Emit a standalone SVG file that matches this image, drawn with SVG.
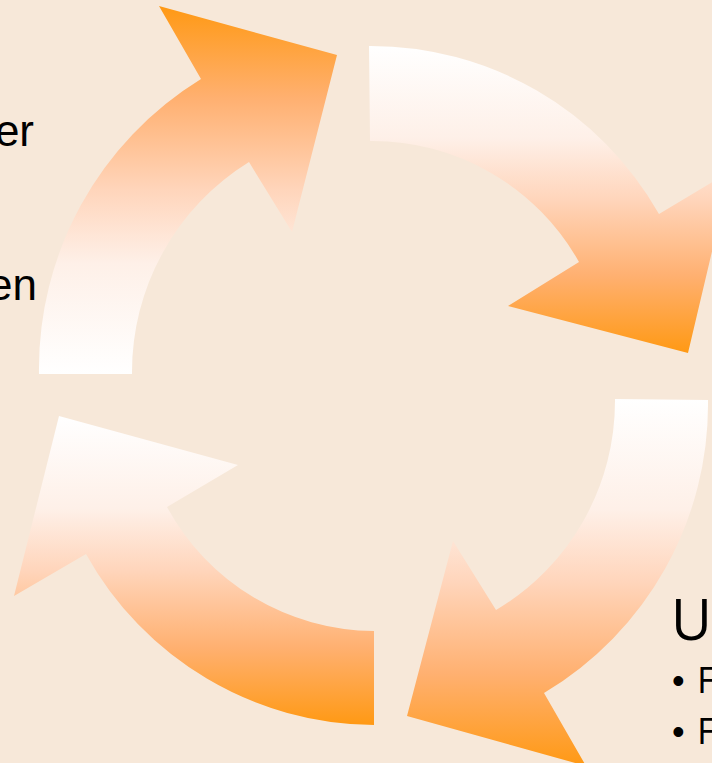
<svg xmlns="http://www.w3.org/2000/svg" width="712" height="763" viewBox="0 0 712 763">
  <defs>
    <linearGradient id="gDown" x1="0" y1="0" x2="0" y2="1">
      <stop offset="0" stop-color="#FFFFFF"/>
      <stop offset="0.3" stop-color="#FEF0E8"/>
      <stop offset="0.5" stop-color="#FFD5BB"/>
      <stop offset="0.75" stop-color="#FFB070"/>
      <stop offset="1" stop-color="#FF9914"/>
    </linearGradient>
    <linearGradient id="gUp" x1="0" y1="1" x2="0" y2="0">
      <stop offset="0" stop-color="#FFFFFF"/>
      <stop offset="0.3" stop-color="#FEF0E8"/>
      <stop offset="0.5" stop-color="#FFD5BB"/>
      <stop offset="0.75" stop-color="#FFB070"/>
      <stop offset="1" stop-color="#FF9914"/>
    </linearGradient>
    <style>
      .bg { fill: #F7E8D9; }
      .left { font-family: "Liberation Sans", Arial, sans-serif; font-size: 44px; fill: #000; }
      .title { font-family: "Open Sans", "Noto Sans", sans-serif; font-size: 56px; fill: #000; }
      .bullet { font-family: "Open Sans", "Noto Sans", sans-serif; font-size: 36px; fill: #000; }
      .dot { font-family: "Liberation Sans", Arial, sans-serif; }
    </style>
  </defs>
  <rect class="bg" x="0" y="0" width="712" height="763"/>

  <g id="arrow-top-right">
    <path fill="url(#gDown)" d="M369,46 A331,331 0 0 1 659,214 L731,171 L688,353 L508,306 L579,262 A237,237 0 0 0 370,141 Z"/>
  </g>
  <g id="arrow-bottom-right">
    <path fill="url(#gDown)" d="M708,400 A336,336 0 0 1 544,693 L586,766 L407,716 L453,541 L496,610 A243,243 0 0 0 615,399 Z"/>
  </g>
  <g id="arrow-bottom-left">
    <path fill="url(#gDown)" d="M374,725 A331,331 0 0 1 86,554 L14,596 L59,416 L238,465 L167,507 A237,237 0 0 0 374,631 Z"/>
  </g>
  <g id="arrow-top-left">
    <path fill="url(#gUp)" d="M39,374 A340,340 0 0 1 201,79 L159,6 L337,55 L292,232 L249,162 A247,247 0 0 0 132,374 Z"/>
  </g>

  <g id="connectors"></g>

  <g id="text-left">
    <text class="left" x="34" y="146" text-anchor="end">er</text>
    <text class="left" x="37" y="300" text-anchor="end">en</text>
  </g>
  <g id="text-right">
    <text class="title" x="671" y="640">U</text>
    <text class="bullet" y="693"><tspan class="dot" x="672">•</tspan><tspan x="697">F</tspan></text>
    <text class="bullet" y="744"><tspan class="dot" x="672">•</tspan><tspan x="697">F</tspan></text>
  </g>
</svg>
